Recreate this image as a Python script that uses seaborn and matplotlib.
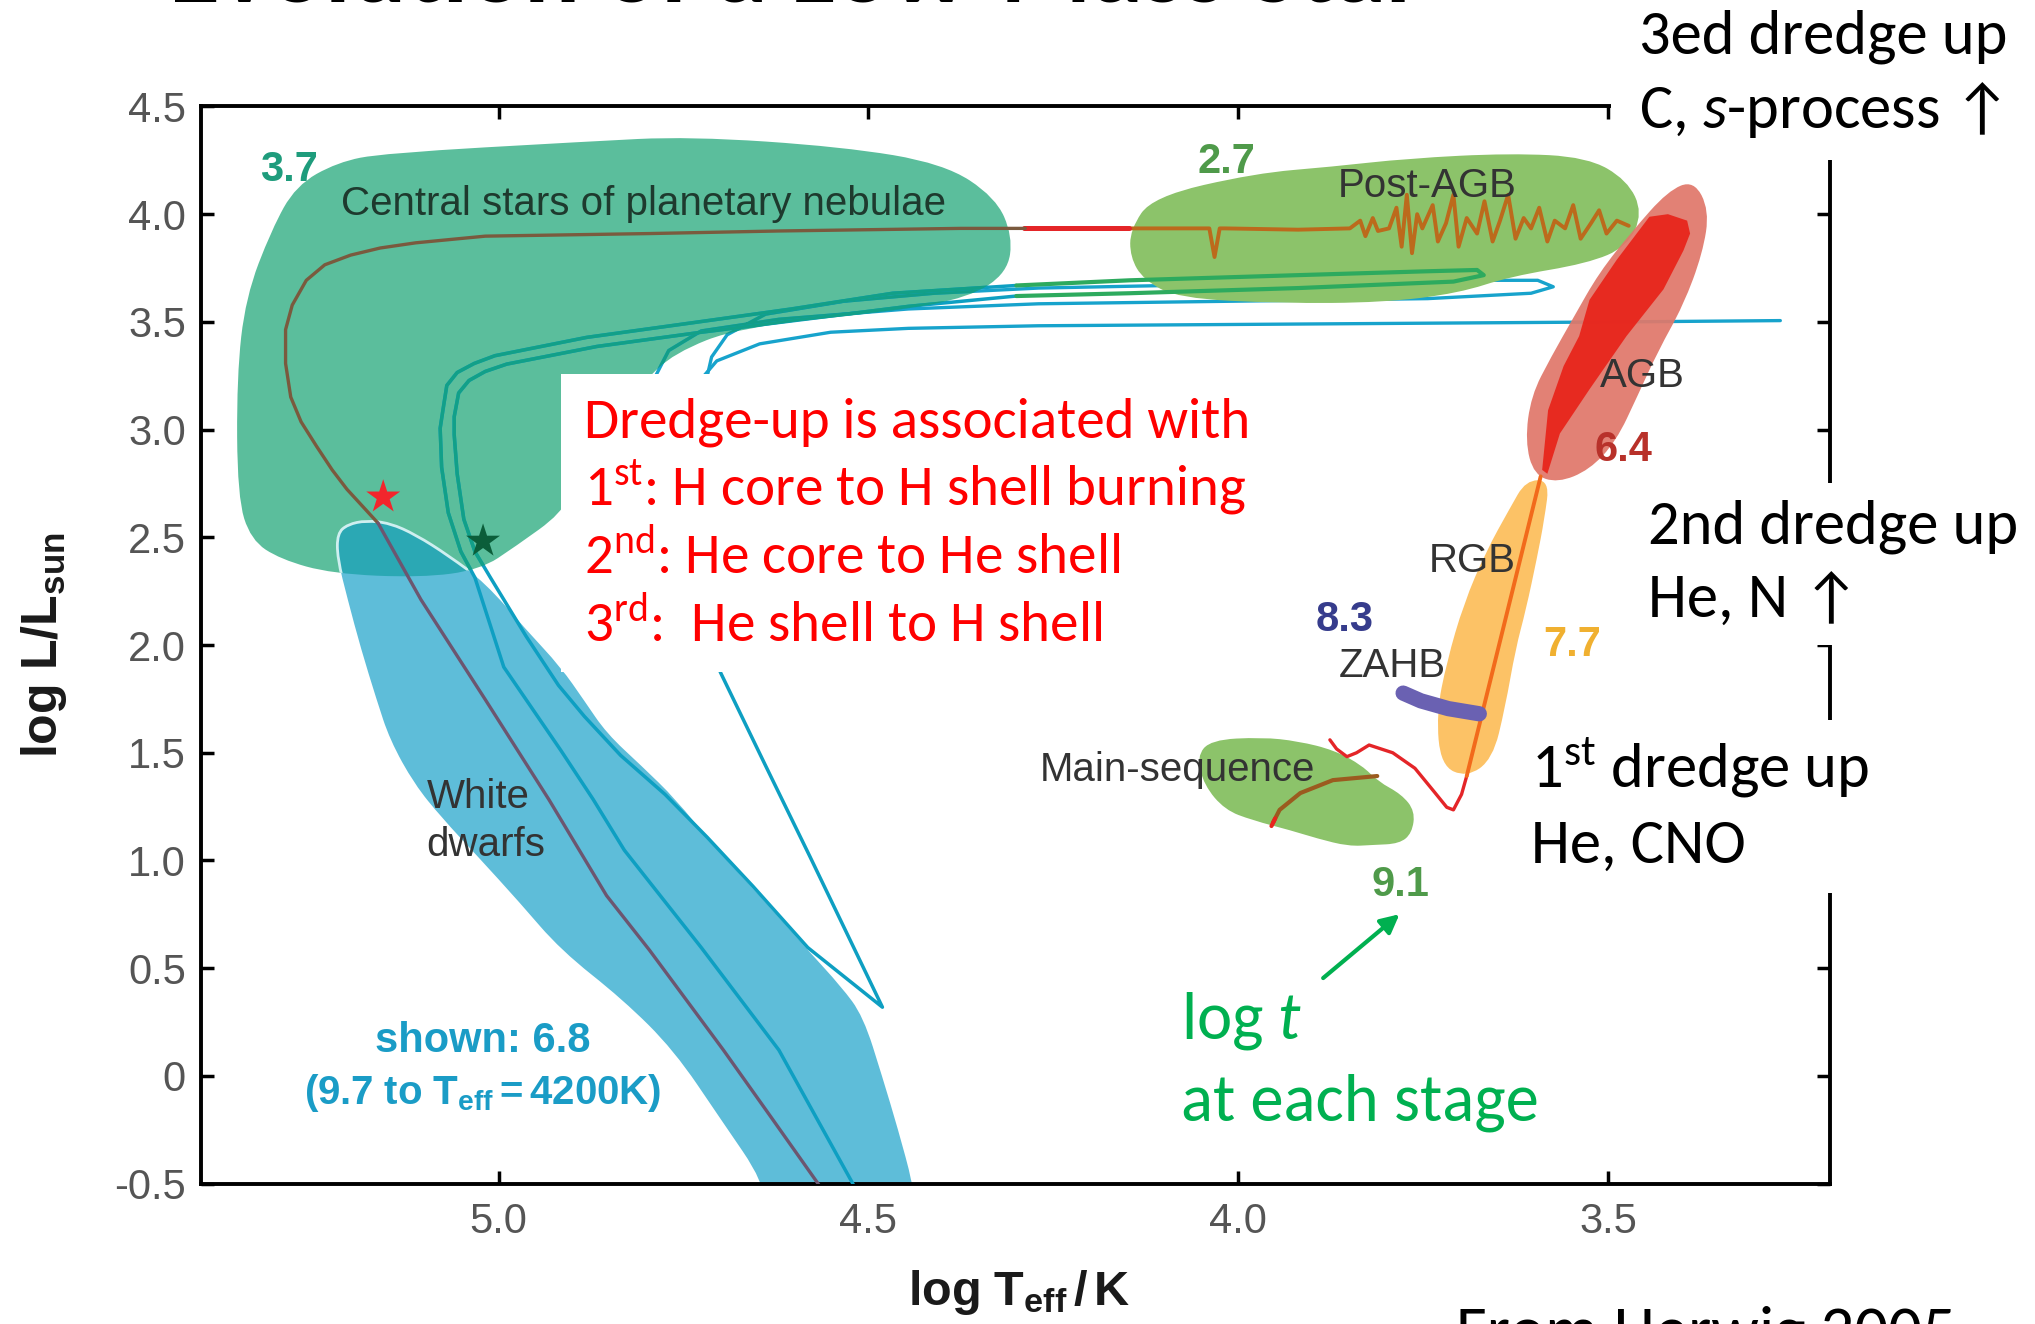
import numpy as np
import matplotlib
matplotlib.use("Agg")
import matplotlib.pyplot as plt
import seaborn as sns
from matplotlib import font_manager
from matplotlib.font_manager import FontProperties
from matplotlib.path import Path
from matplotlib.patches import PathPatch, Rectangle

# ---------------------------------------------------------------
# HR diagram of a low-mass star (log Teff [K], log L/Lsun)
# ---------------------------------------------------------------
x_ticks = [5.0, 4.5, 4.0, 3.5]
x_tick_labels = ["5.0", "4.5", "4.0", "3.5"]
y_ticks = [-0.5, 0.0, 0.5, 1.0, 1.5, 2.0, 2.5, 3.0, 3.5, 4.0, 4.5]
y_tick_labels = ["-0.5", "0", "0.5", "1.0", "1.5", "2.0", "2.5", "3.0", "3.5", "4.0", "4.5"]

# evolutionary-phase regions (outlines)
cspn_x = [5.307, 5.274, 5.218, 5.156, 4.881, 4.742, 4.535, 4.398, 4.328, 4.305, 4.312, 4.363,
          4.467, 4.674, 4.763, 4.805, 4.858, 4.902, 4.914, 4.977, 5.025, 5.105, 5.225, 5.295,
          5.335, 5.353, 5.354, 5.342]
cspn_y = [3.928, 4.133, 4.241, 4.283, 4.337, 4.361, 4.313, 4.235, 4.078, 3.898, 3.729, 3.614,
          3.548, 3.476, 3.355, 3.217, 3.006, 2.735, 2.614, 2.458, 2.349, 2.313, 2.331, 2.398,
          2.488, 2.687, 3.247, 3.614]

wd_x = [5.179, 5.147, 5.112, 5.068, 5.018, 4.963, 4.916, 4.884, 4.854, 4.807, 4.760, 4.712,
        4.647, 4.582, 4.537, 4.507, 4.481, 4.460, 4.440, 4.435, 4.646, 4.640, 4.700, 4.763,
        4.832, 4.916, 4.972, 5.028, 5.077, 5.114, 5.147, 5.165, 5.186, 5.204, 5.218, 5.218, 5.204]
wd_y = [2.578, 2.566, 2.512, 2.416, 2.289, 2.072, 1.898, 1.741, 1.590, 1.440, 1.283, 1.078,
        0.837, 0.584, 0.416, 0.277, -0.006, -0.247, -0.500, -0.639, -0.639, -0.500, -0.199, 0.120,
        0.355, 0.584, 0.807, 1.018, 1.199, 1.355, 1.560, 1.747, 1.982, 2.211, 2.404, 2.518, 2.560]

pagb_x = [4.146, 4.116, 3.977, 3.874, 3.770, 3.632, 3.528, 3.474, 3.453, 3.474, 3.528, 3.632,
          3.702, 3.804, 3.942, 4.081, 4.128, 4.146]
pagb_y = [3.928, 4.081, 4.190, 4.220, 4.259, 4.283, 4.265, 4.158, 4.006, 3.849, 3.771, 3.711,
          3.633, 3.590, 3.586, 3.610, 3.695, 3.801]

agb_x = [3.384, 3.363, 3.372, 3.398, 3.432, 3.460, 3.489, 3.525, 3.568, 3.600, 3.612, 3.604,
         3.577, 3.547, 3.512, 3.467, 3.419]
agb_y = [4.157, 4.018, 3.819, 3.578, 3.367, 3.157, 2.946, 2.813, 2.753, 2.789, 2.946, 3.157,
         3.337, 3.518, 3.729, 3.922, 4.108]

agbcore_x = [3.444, 3.419, 3.393, 3.389, 3.398, 3.425, 3.475, 3.525, 3.565, 3.582, 3.589, 3.581,
             3.560, 3.539, 3.525, 3.488]
agbcore_y = [3.988, 4.000, 3.970, 3.910, 3.831, 3.651, 3.434, 3.187, 2.982, 2.795, 2.813, 3.090,
             3.295, 3.434, 3.602, 3.789]

rgb_x = [3.611, 3.579, 3.586, 3.596, 3.611, 3.625, 3.639, 3.656, 3.691, 3.726, 3.732, 3.718,
         3.695, 3.665, 3.633]
rgb_y = [2.765, 2.765, 2.584, 2.404, 2.163, 1.982, 1.711, 1.470, 1.386, 1.440, 1.681, 1.922,
         2.193, 2.434, 2.633]

ms_x = [4.056, 4.037, 3.968, 3.919, 3.870, 3.832, 3.811, 3.779, 3.761, 3.765, 3.782, 3.818,
        3.851, 3.893, 3.928, 3.981, 4.018, 4.046]
ms_y = [1.482, 1.560, 1.572, 1.554, 1.512, 1.440, 1.367, 1.307, 1.229, 1.127, 1.078, 1.072,
        1.066, 1.102, 1.139, 1.187, 1.235, 1.349]

# evolutionary tracks
ms_track_x = [3.812, 3.872, 3.916, 3.944, 3.953]
ms_track_y = [1.392, 1.373, 1.313, 1.235, 1.175]
ms_tip_x = [3.950, 3.955]
ms_tip_y = [1.195, 1.160]

hook_x = [3.691, 3.698, 3.709, 3.718, 3.735, 3.761, 3.791, 3.823, 3.840, 3.853, 3.867, 3.876]
hook_y = [1.392, 1.307, 1.235, 1.247, 1.319, 1.428, 1.500, 1.536, 1.500, 1.482, 1.518, 1.560]

rgb_track_x = [3.591, 3.691]
rgb_track_y = [2.783, 1.392]

zahb_x = [3.777, 3.753, 3.716, 3.674]
zahb_y = [1.777, 1.741, 1.705, 1.681]

postagb_x = [3.472, 3.488, 3.502, 3.512, 3.523, 3.537, 3.547, 3.558, 3.572, 3.582, 3.593, 3.604,
             3.614, 3.625, 3.635, 3.646, 3.656, 3.667, 3.677, 3.691, 3.702, 3.709, 3.719, 3.730,
             3.737, 3.751, 3.758, 3.765, 3.772, 3.779, 3.786, 3.796, 3.811, 3.818, 3.828, 3.835,
             3.849, 3.919, 4.018, 4.025, 4.032, 4.039, 4.095, 4.147]
postagb_y = [3.946, 3.970, 3.910, 4.018, 3.958, 3.886, 4.042, 3.934, 3.970, 3.873, 4.030, 3.934,
             3.982, 3.886, 4.090, 3.970, 3.873, 4.060, 3.910, 3.982, 3.849, 4.090, 3.958, 3.873,
             4.042, 3.934, 4.000, 3.819, 4.090, 3.849, 4.030, 3.934, 3.922, 3.982, 3.898, 3.970,
             3.934, 3.928, 3.934, 3.934, 3.801, 3.934, 3.934, 3.934]

transition_x = [4.147, 4.290]
transition_y = [3.934, 3.934]

cspn_track_x = [4.288, 4.375, 4.621, 4.796, 5.018, 5.112, 5.160, 5.200, 5.235, 5.260, 5.279,
                5.288, 5.288, 5.281, 5.267, 5.246, 5.225, 5.205, 5.163]
cspn_track_y = [3.934, 3.934, 3.922, 3.910, 3.898, 3.867, 3.843, 3.810, 3.765, 3.693, 3.578,
                3.464, 3.307, 3.151, 3.036, 2.922, 2.813, 2.723, 2.566]

wd_track_x = [5.163, 5.105, 5.018, 4.932, 4.854, 4.796, 4.696, 4.630, 4.568, 4.550]
wd_track_y = [2.566, 2.211, 1.747, 1.283, 0.837, 0.584, 0.120, -0.199, -0.500, -0.600]

late_a_x = [4.300, 4.467, 4.604, 4.742, 4.881, 5.005, 5.033, 5.056, 5.070, 5.075, 5.079, 5.077,
            5.068, 5.051, 5.032, 4.993, 4.916, 4.872, 4.830, 4.726, 4.621, 4.521, 4.511]
late_a_y = [3.669, 3.633, 3.560, 3.494, 3.428, 3.343, 3.307, 3.265, 3.205, 3.096, 3.006, 2.825,
            2.614, 2.434, 2.313, 1.898, 1.512, 1.283, 1.048, 0.596, 0.120, -0.500, -0.578]

late_b_x = [4.300, 4.446, 4.586, 4.726, 4.867, 4.989, 5.018, 5.040, 5.054, 5.060, 5.060, 5.056,
            5.047, 5.032, 5.011, 4.963, 4.919, 4.884, 4.835, 4.775, 4.718, 4.656, 4.582, 4.481,
            4.579, 4.639, 4.700, 4.726]
late_b_y = [3.620, 3.572, 3.512, 3.452, 3.386, 3.304, 3.270, 3.228, 3.170, 3.060, 2.976, 2.795,
            2.584, 2.434, 2.313, 2.042, 1.813, 1.669, 1.488, 1.307, 1.108, 0.880, 0.596, 0.319,
            1.018, 1.440, 1.873, 2.102]

loop_a_x = [3.267, 3.481, 3.744, 4.007, 4.270, 4.446, 4.551, 4.647, 4.705, 4.726]
loop_a_y = [3.506, 3.500, 3.494, 3.488, 3.482, 3.470, 3.452, 3.398, 3.319, 3.235]

loop_b_x = [4.788, 4.770, 4.726, 4.621, 4.446, 4.270, 4.007, 3.744, 3.604, 3.574, 3.595, 3.709,
            3.919, 4.095, 4.270, 4.411, 4.533, 4.639, 4.691, 4.712, 4.718]
loop_b_y = [3.247, 3.367, 3.458, 3.512, 3.560, 3.584, 3.596, 3.608, 3.633, 3.663, 3.693, 3.693,
            3.681, 3.669, 3.657, 3.633, 3.596, 3.536, 3.440, 3.337, 3.247]

green_loop_x = [4.300, 4.147, 3.919, 3.744, 3.677, 3.668, 3.709, 3.919, 4.147, 4.300]
green_loop_y = [3.669, 3.693, 3.717, 3.735, 3.741, 3.717, 3.687, 3.657, 3.633, 3.620]

star_red = (5.156, 2.687)
star_green = (5.021, 2.482)

# phase labels: (text, x, y, colour, bold)
phase_labels = [
    ("3.7", 5.284, 4.205, "#1E9C7C", True),
    ("Central stars of planetary nebulae", 4.804, 4.048, "#1E3A2E", False),
    ("2.7", 4.016, 4.241, "#4F9A4A", True),
    ("Post-AGB", 3.744, 4.133, "#333333", False),
    ("AGB", 3.453, 3.247, "#333333", False),
    ("6.4", 3.479, 2.904, "#B8312A", True),
    ("RGB", 3.684, 2.392, "#333333", False),
    ("8.3", 3.856, 2.114, "#363C8C", True),
    ("ZAHB", 3.791, 1.904, "#333333", False),
    ("7.7", 3.549, 2.000, "#F0B030", True),
    ("Main-sequence", 4.082, 1.422, "#333333", False),
    ("9.1", 3.781, 0.886, "#4F9A4A", True),
    ("White", 5.028, 1.295, "#333333", False),
    ("dwarfs", 5.018, 1.072, "#333333", False),
    ("shown: 6.8", 5.021, 0.163, "#1A9CC6", True),
]

# ---------------------------------------------------------------
sns.set_style("ticks")


def pick(*families):
    for fam in families:
        try:
            font_manager.findfont(FontProperties(family=fam), fallback_to_default=False)
            return fam
        except Exception:
            continue
    return "DejaVu Sans"


SLIDE = pick("Carlito", "Lato", "Open Sans")
CHART = pick("Liberation Sans", "DejaVu Sans")
k = 1.0 if SLIDE == "Carlito" else 0.93

plt.rcParams.update({
    "font.family": [CHART, "DejaVu Sans"],
    "mathtext.fontset": "custom",
    "mathtext.rm": SLIDE,
    "mathtext.it": SLIDE + ":italic",
    "mathtext.sf": CHART + ":bold",
    "mathtext.bf": CHART + ":bold",
})

W, H = 2035, 1324
fig = plt.figure(figsize=(W / 100, H / 100), dpi=100)
fig.patch.set_facecolor("white")
ax = fig.add_axes([0.0989, 0.1060, 0.8003, 0.8136])
ax.set_facecolor("white")


def blob_path(xs, ys):
    pts = np.column_stack([xs, ys])
    mids = (pts + np.roll(pts, -1, axis=0)) / 2.0
    verts = [mids[-1]]
    codes = [Path.MOVETO]
    for p, m in zip(pts, mids):
        verts.extend([p, m])
        codes.extend([Path.CURVE3, Path.CURVE3])
    verts.append(mids[-1])
    codes.append(Path.CLOSEPOLY)
    return Path(verts, codes)


def add_blob(xs, ys, color, z, alpha=1.0, ec="none", lw=0.0):
    patch = PathPatch(blob_path(xs, ys), facecolor=color, edgecolor=ec, lw=lw,
                      alpha=alpha, zorder=z)
    ax.add_patch(patch)
    return patch


def track(xs, ys, color, lw, z, clip=None):
    sns.lineplot(x=np.asarray(xs), y=np.asarray(ys), sort=False, estimator=None,
                 color=color, lw=lw, zorder=z, ax=ax)
    line = ax.lines[-1]
    line.set_solid_capstyle("round")
    line.set_solid_joinstyle("round")
    if clip is not None:
        line.set_clip_path(clip)
    return line


# regions
cspn = add_blob(cspn_x, cspn_y, "#5BBE9C", 1.0)
add_blob(wd_x, wd_y, "#5EBDD9", 1.1)
overlap = add_blob(wd_x, wd_y, "#2BA8B4", 1.2, ec="#CFEFF0", lw=2.0)
overlap.set_clip_path(cspn)
add_blob(ms_x, ms_y, "#8CC36A", 1.0)
add_blob(rgb_x, rgb_y, "#FCC266", 1.0)

# late thermal pulse loops (partly hidden by the post-AGB region)
track(loop_a_x, loop_a_y, "#17A3CC", 2.4, 1.5)
track(loop_b_x, loop_b_y, "#17A3CC", 2.4, 1.5)
track(loop_b_x, loop_b_y, "#129E88", 2.4, 1.55, clip=cspn)
add_blob(pagb_x, pagb_y, "#8CC36A", 1.8)

# AGB
add_blob(agb_x, agb_y, "#E0786A", 2.5, alpha=0.93)
ax.fill(agbcore_x, agbcore_y, color="#E8251C", alpha=0.95, lw=0, zorder=2.6)

# tracks
track(ms_track_x, ms_track_y, "#9B5B1F", 3.0, 3.0)
track(ms_tip_x, ms_tip_y, "#E8251C", 3.0, 3.1)
track(hook_x, hook_y, "#E42528", 2.4, 3.0)
track(rgb_track_x, rgb_track_y, "#F26A1B", 2.8, 3.0)
track(zahb_x, zahb_y, "#6A61B2", 11.0, 3.0)
track(postagb_x, postagb_y, "#BC6A1C", 2.8, 3.0)
track(transition_x, transition_y, "#E42528", 3.6, 3.0)
track(cspn_track_x, cspn_track_y, "#7A5A3E", 2.4, 3.0)
track(wd_track_x, wd_track_y, "#6C5670", 2.4, 3.0)
track(late_a_x, late_a_y, "#0E9FC2", 2.5, 3.0)
track(late_a_x, late_a_y, "#12A088", 2.5, 3.05, clip=cspn)
track(late_b_x, late_b_y, "#0E9FC2", 2.5, 3.0)
track(late_b_x, late_b_y, "#12A088", 2.5, 3.05, clip=cspn)
track(green_loop_x, green_loop_y, "#2DAA5E", 3.0, 3.2)

# stars on the CSPN tracks
sns.scatterplot(x=[star_red[0]], y=[star_red[1]], marker="*", s=660, color="#F2262C",
                edgecolor="none", zorder=4, ax=ax)
sns.scatterplot(x=[star_green[0]], y=[star_green[1]], marker="*", s=660, color="#0B5E3A",
                edgecolor="none", zorder=4, ax=ax)

# phase labels
for txt, lx, ly, col, bold in phase_labels:
    ax.text(lx, ly, txt, color=col, fontsize=30 if bold else 29,
            fontweight="bold" if bold else "normal", ha="center", va="center", zorder=5)
ax.text(5.021, -0.078, r"$\mathsf{(9.7\ to\ T_{eff}{=}4200K)}$", color="#1A9CC6",
        fontsize=29, ha="center", va="center", zorder=5)

# green annotation arrow towards the main-sequence age
ax.annotate("", xy=(3.779, 0.759), xytext=(3.888, 0.446),
            arrowprops=dict(arrowstyle="-|>", color="#00B050", lw=3.0, mutation_scale=28),
            zorder=5)

# axes styling
ax.set_xlim(5.402, 3.20)
ax.set_ylim(-0.5, 4.5)
ax.set_xticks(x_ticks)
ax.set_xticklabels(x_tick_labels)
ax.set_yticks(y_ticks)
ax.set_yticklabels(y_tick_labels)
ax.tick_params(direction="in", length=9.4, width=2.5, top=True, right=True,
               labelsize=30, labelcolor="#555555", color="black")
ax.tick_params(axis="y", pad=11)
ax.tick_params(axis="x", pad=13)
for sp in ax.spines.values():
    sp.set_visible(True)
    sp.set_linewidth(2.8)
    sp.set_color("black")
ax.set_xlabel(r"$\mathsf{log\ T_{eff}\,/\,K}$", fontsize=35, color="#1A1A1A")
ax.set_ylabel(r"$\mathsf{log\ L/L_{sun}}$", fontsize=36, color="#1A1A1A")
ax.xaxis.set_label_coords(0.502, -0.078)
ax.yaxis.set_label_coords(-0.081, 0.50)


# ---------------------------------------------------------------
# slide overlay: white panels and notes
def panel(x0, y0, x1, y1):
    fig.add_artist(Rectangle((x0 / W, 1 - y1 / H), (x1 - x0) / W, (y1 - y0) / H,
                             transform=fig.transFigure, facecolor="white",
                             edgecolor="none", zorder=5))


def note(xpx, ypx, s, size, color="black", **kw):
    fig.text(xpx / W, 1 - ypx / H, s, fontsize=size * k, color=color,
             family=[SLIDE, "DejaVu Sans"], va="baseline", zorder=6, **kw)


panel(1611, 0, W, 160)
panel(1627, 483, W, 645)
panel(1512, 720, W, 893)
panel(561, 374, 1250, 672)

note(169, 1, "Evolution of a Low-Mass Star", 75, fontweight="bold")
note(1639, 53, "3ed dredge up", 45)
note(1639, 128, r"C, $\mathit{s}$-process", 45)
note(1982, 128, "\u2191", 45, ha="center")
note(1648, 543, "2nd dredge up", 45)
note(1648, 617, "He, N", 45)
note(1831, 617, "\u2191", 45, ha="center")
note(1531, 788, r"1$^{\mathrm{st}}$ dredge up", 45)
note(1531, 863, "He, CNO", 45)

red_lines = ["Dredge-up is associated with",
             r"1$^{\mathrm{st}}$: H core to H shell burning",
             r"2$^{\mathrm{nd}}$: He core to He shell",
             r"3$^{\mathrm{rd}}$:  He shell to H shell"]
for i, s in enumerate(red_lines):
    note(584, 437 + 68.3 * i, s, 41, color="#FF0000")

note(1181, 1038, r"log $\mathit{t}$", 48, color="#00B050")
note(1181, 1120, "at each stage", 48, color="#00B050")
note(1456, 1352, "From Herwig 2005", 48)

fig.savefig("out.png", dpi=100, facecolor="white")
